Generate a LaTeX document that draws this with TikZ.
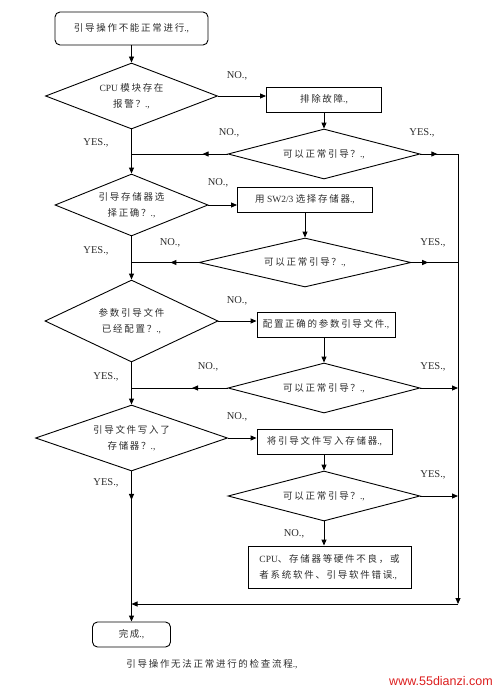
\documentclass[tikz,border=0pt]{standalone}
\usepackage{fontspec}
\setmainfont{Liberation Serif}
\newfontfamily\cjk{Noto Sans CJK SC}[LetterSpace=18]
\newfontfamily\wmfont{Liberation Sans}
\newcommand\zh[1]{{\cjk #1}}
\usetikzlibrary{shapes.geometric,arrows.meta,decorations.markings}
\definecolor{wmred}{RGB}{220,30,30}
\definecolor{txt}{RGB}{45,45,45}
\begin{document}
\begin{tikzpicture}[x=1pt,y=-1pt,
  every node/.style={font=\fontsize{9.5}{16.5}\selectfont, text=txt},
  lbl/.style={font=\fontsize{10.5}{12}\selectfont, text=txt, inner sep=0},
  rbox/.style={draw, rounded corners=5pt, line width=0.9pt, inner sep=0},
  pbox/.style={draw, line width=0.9pt, inner sep=0},
  dia/.style={draw, diamond, line width=0.9pt, inner sep=0, align=center},
  conn/.style={line width=0.9pt, -{Triangle[length=6pt,width=5pt]}},
  plainln/.style={line width=0.9pt},
  midarr/.style={postaction={decorate}, decoration={markings, mark=at position #1 with {\arrow{Triangle[length=6pt,width=5pt]}}}}
]
\useasboundingbox (0,0) rectangle (502,693);

% main column
\node[rbox, minimum width=153, minimum height=33] (start) at (131.5,28.5) {\zh{引导操作不能正常进行}.,};
\node[dia, minimum width=172, minimum height=66, shape aspect=2.6] (d1) at (131.5,96) {CPU \zh{模块存在}\\\zh{报警？}.,};
\node[dia, minimum width=153, minimum height=62, shape aspect=2.47] (d2) at (131.5,205) {\zh{引导存储器选}\\\zh{择正确？}.,};
\node[dia, minimum width=173, minimum height=82, shape aspect=2.1] (d3) at (131.5,321) {\zh{参数引导文件}\\\zh{已经配置？}.,};
\node[dia, minimum width=192, minimum height=66, shape aspect=2.9] (d4) at (131.5,438) {\zh{引导文件写入了}\\\zh{存储器？}.,};
\node[rbox, minimum width=78, minimum height=25] (done) at (131.5,634.5) {\zh{完成}.,};

% right column
\node[pbox, minimum width=115, minimum height=25] (b1) at (324,99.5) {\zh{排除故障}.,};
\node[dia, minimum width=192, minimum height=50, shape aspect=3.8] (q1) at (324,154) {\zh{可以正常引导？}.,};
\node[pbox, minimum width=135, minimum height=25] (b2) at (305,199.5) {\zh{用} SW2/3 \zh{选择存储器}.,};
\node[dia, minimum width=212, minimum height=49, shape aspect=4.3] (q2) at (305,262.5) {\zh{可以正常引导？}.,};
\node[pbox, minimum width=138, minimum height=25] (b3) at (326,324.5) {\zh{配置正确的参数引导文件}.,};
\node[dia, minimum width=192, minimum height=50, shape aspect=3.8] (q3) at (324,388) {\zh{可以正常引导？}.,};
\node[pbox, minimum width=135, minimum height=25] (b4) at (324.5,441.5) {\zh{将引导文件写入存储器}.,};
\node[dia, minimum width=192, minimum height=50, shape aspect=3.8] (q4) at (324,496) {\zh{可以正常引导？}.,};
\node[pbox, minimum width=163, minimum height=42, align=left] (b5) at (329.5,567) {CPU\zh{、存储器等硬件不良，或}\\\zh{者系统软件、引导软件错误}.,};

\coordinate (rtop) at (458,154);
\coordinate (rbot) at (458,604);

% labels
\node[lbl] (n1) at (237,76) {NO.,};
\node[lbl] (y1) at (96,143) {YES.,};
\node[lbl] (nq1) at (229,133) {NO.,};
\node[lbl] (yq1) at (422,133) {YES.,};
\node[lbl] (n2) at (218,183) {NO.,};
\node[lbl] (y2) at (96,251) {YES.,};
\node[lbl] (nq2) at (170,243) {NO.,};
\node[lbl] (yq2) at (433,243) {YES.,};
\node[lbl] (n3) at (237,301) {NO.,};
\node[lbl] (y3) at (106,377) {YES.,};
\node[lbl] (nq3) at (208,367) {NO.,};
\node[lbl] (yq3) at (433,367) {YES.,};
\node[lbl] (n4) at (237,417) {NO.,};
\node[lbl] (y4) at (106,483) {YES.,};
\node[lbl] (yq4) at (433,475) {YES.,};
\node[lbl] (nq4) at (294,534) {NO.,};

% main connectors
\draw[conn] (start) -- (d1);
\draw[conn] (d1) -- (d2);
\draw[conn] (d2) -- (d3);
\draw[conn] (d3) -- (d4);
\draw[conn, midarr=0.19] (d4) -- (done);

% NO branches to boxes
\draw[conn] (d1.east) -- (d1.east -| b1.west);
\draw[conn] (d2.east) -- (d2.east -| b2.west);
\draw[conn] (d3.east) -- (d3.east -| b3.west);
\draw[conn] (d4.east) -- (d4.east -| b4.west);

% boxes to checks
\draw[conn] (q1.north |- b1.south) -- (q1.north);
\draw[conn] (q2.north |- b2.south) -- (q2.north);
\draw[conn] (q3.north |- b3.south) -- (q3.north);
\draw[conn] (q4.north |- b4.south) -- (q4.north);
\draw[conn] (q4.south) -- (q4.south |- b5.north);

% NO back to main column
\draw[plainln, midarr=0.26] (q1.west) -- (q1.west -| d1.south);
\draw[plainln, midarr=0.42] (q2.west) -- (q2.west -| d2.south);
\draw[plainln, midarr=0.37] (q3.west) -- (q3.west -| d3.south);

% YES to right line
\draw[plainln, midarr=0.45] (q1.east) -- (q1.east -| rtop);
\draw[plainln, midarr=0.36] (q2.east) -- (q2.east -| rtop);
\draw[conn] (q3.east) -- (q3.east -| rtop);
\draw[conn] (q4.east) -- (q4.east -| rtop);
\draw[conn] (rtop) -- (rbot);
\draw[conn] (rbot) -- (rbot -| done.north);

% caption and watermark
\node (cap) at (212,664) {\zh{引导操作无法正常进行的检查流程}.,};
\node[font=\wmfont\fontsize{12.5}{14}\selectfont, text=wmred, inner sep=0] (wm) at (441,681) {www.55dianzi.com};
\end{tikzpicture}
\end{document}
